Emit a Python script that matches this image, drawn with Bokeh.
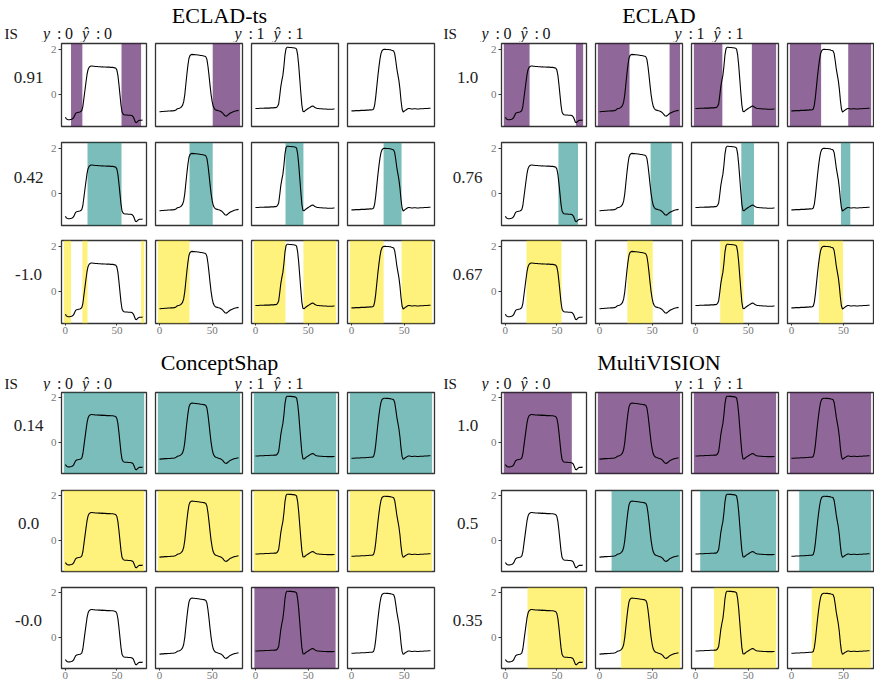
from bokeh.plotting import figure
from bokeh.models import Range1d, BoxAnnotation, FixedTicker, ColumnDataSource
from bokeh.layouts import row, column
from bokeh.embed import file_html
from bokeh.resources import INLINE
from bokeh.core.properties import value

# ---------------- data ----------------
time_steps = list(range(76))

series_a = [-0.98, -1.05, -1.08, -1.09, -1.09, -1.08, -1.07, -1.05, -1.00, -0.90,
            -0.81, -0.78, -0.77, -0.76, -0.75, -0.73, -0.68, -0.50, -0.15, 0.20,
            0.55, 0.88, 1.10, 1.20, 1.24, 1.26, 1.26, 1.25, 1.25, 1.24,
            1.24, 1.24, 1.23, 1.23, 1.23, 1.22, 1.23, 1.22, 1.22, 1.22,
            1.21, 1.21, 1.21, 1.21, 1.20, 1.20, 1.20, 1.19, 1.18, 1.16,
            1.08, 0.85, 0.45, 0.00, -0.45, -0.75, -0.84, -0.87, -0.88, -0.88,
            -0.88, -0.89, -0.89, -0.89, -0.90, -0.92, -0.97, -1.08, -1.20, -1.22,
            -1.17, -1.13, -1.11, -1.11, -1.11, -1.10]

series_b = [-0.74, -0.74, -0.73, -0.73, -0.73, -0.72, -0.72, -0.72, -0.71, -0.71,
            -0.71, -0.70, -0.70, -0.70, -0.69, -0.68, -0.65, -0.61, -0.60, -0.59,
            -0.56, -0.52, -0.45, -0.30, 0.00, 0.45, 0.90, 1.30, 1.60, 1.72,
            1.76, 1.77, 1.76, 1.76, 1.75, 1.75, 1.74, 1.74, 1.73, 1.72,
            1.72, 1.71, 1.70, 1.69, 1.66, 1.55, 1.25, 0.85, 0.40, 0.00,
            -0.30, -0.50, -0.60, -0.65, -0.67, -0.68, -0.70, -0.71, -0.73, -0.76,
            -0.80, -0.86, -0.91, -0.93, -0.92, -0.88, -0.84, -0.80, -0.78, -0.76,
            -0.74, -0.72, -0.71, -0.70, -0.69, -0.68]

series_c = [-0.60, -0.60, -0.60, -0.60, -0.59, -0.59, -0.59, -0.59, -0.59, -0.58,
            -0.58, -0.58, -0.58, -0.58, -0.57, -0.57, -0.57, -0.57, -0.56, -0.56,
            -0.55, -0.50, -0.40, -0.05, 0.35, 0.62, 0.85, 1.25, 1.75, 2.02,
            2.08, 2.08, 2.07, 2.07, 2.07, 2.06, 2.06, 2.05, 2.04, 2.00,
            1.75, 1.30, 0.70, 0.10, -0.45, -0.72, -0.74, -0.70, -0.66, -0.63,
            -0.60, -0.57, -0.54, -0.51, -0.49, -0.50, -0.54, -0.57, -0.59, -0.60,
            -0.60, -0.61, -0.61, -0.61, -0.62, -0.62, -0.62, -0.62, -0.63, -0.63,
            -0.63, -0.63, -0.63, -0.63, -0.62, -0.62]

series_d = [-0.70, -0.70, -0.70, -0.70, -0.69, -0.69, -0.69, -0.69, -0.69, -0.68,
            -0.68, -0.68, -0.68, -0.68, -0.67, -0.67, -0.67, -0.66, -0.66, -0.66,
            -0.65, -0.62, -0.45, -0.10, 0.35, 0.80, 1.20, 1.55, 1.80, 1.93,
            1.97, 1.99, 1.99, 1.98, 1.98, 1.98, 1.97, 1.97, 1.95, 1.94,
            1.92, 1.80, 1.50, 1.15, 0.88, 0.62, 0.25, -0.25, -0.62, -0.75,
            -0.72, -0.68, -0.65, -0.62, -0.60, -0.60, -0.61, -0.62, -0.62, -0.61,
            -0.61, -0.61, -0.62, -0.62, -0.62, -0.61, -0.61, -0.61, -0.61, -0.60,
            -0.60, -0.60, -0.60, -0.59, -0.59, -0.59]

all_series = [series_a, series_b, series_c, series_d]

x_ticks = [0, 50]
y_ticks = [0, 2]

methods_top = ["ECLAD-ts", "ECLAD"]
methods_bottom = ["ConceptShap", "MultiVISION"]

class_values = ["0", "1"]          # y and y-hat of the two class headers

is_eclad_ts = ["0.91", "0.42", "-1.0"]
is_eclad = ["1.0", "0.76", "0.67"]
is_conceptshap = ["0.14", "0.0", "-0.0"]
is_multivision = ["1.0", "0.5", "0.35"]

concept_purple = "#440154"
concept_teal = "#21918c"
concept_yellow = "#fde725"

colors_eclad_ts = [concept_purple, concept_teal, concept_yellow]
colors_eclad = [concept_purple, concept_teal, concept_yellow]
colors_conceptshap = [concept_teal, concept_yellow, concept_purple]
colors_multivision = [concept_purple, concept_teal, concept_yellow]

# concept regions: [row][column] -> list of (start, end)
spans_eclad_ts = [
    [[(5.5, 16.5), (54.5, 73.5)], [(50.5, 76.5)], [], []],
    [[(21.5, 54.5)], [(28.5, 50.5)], [(28.5, 45.5)], [(30.5, 47.5)]],
    [[(-1.5, 5.5), (16.5, 21.5), (73.5, 76.5)], [(-1.5, 28.5)],
     [(-1.5, 28.5), (45.5, 76.5)], [(-1.5, 30.5), (47.5, 76.5)]],
]
spans_eclad = [
    [[(-1.5, 23.5), (68.5, 75.5)], [(-1.5, 28.5), (66.5, 76.5)],
     [(-1.5, 25.5), (53.5, 76.5)], [(-1.5, 28.5), (54.5, 76.5)]],
    [[(51.5, 70.5)], [(48.5, 68.5)], [(43.5, 55.5)], [(47.5, 56.5)]],
    [[(20.5, 54.5)], [(26.5, 50.5)], [(23.5, 45.5)], [(26.5, 49.5)]],
]
spans_conceptshap = [
    [[(-1.5, 76.5)], [(-1.5, 76.5)], [(-1.5, 76.5)], [(-1.5, 76.5)]],
    [[(-1.5, 76.5)], [(-1.5, 76.5)], [(-1.5, 76.5)], [(-1.5, 76.5)]],
    [[], [], [(-1.0, 76.0)], []],
]
spans_multivision = [
    [[(-1.5, 64.5)], [(-1.5, 76.5)], [(-1.5, 76.5)], [(-1.5, 76.5)]],
    [[], [(11.5, 76.5)], [(4.5, 76.5)], [(7.5, 76.5)]],
    [[(21.5, 76.5)], [(20.5, 76.5)], [(17.5, 76.5)], [(19.5, 76.5)]],
]

is_values = {"ECLAD-ts": is_eclad_ts, "ECLAD": is_eclad,
             "ConceptShap": is_conceptshap, "MultiVISION": is_multivision}
row_colors = {"ECLAD-ts": colors_eclad_ts, "ECLAD": colors_eclad,
              "ConceptShap": colors_conceptshap, "MultiVISION": colors_multivision}
spans = {"ECLAD-ts": spans_eclad_ts, "ECLAD": spans_eclad,
         "ConceptShap": spans_conceptshap, "MultiVISION": spans_multivision}

# ---------------- style / layout ----------------
SERIF = "Liberation Serif"
TOTAL_W = 874

x_pad = 0.05 * (time_steps[-1] - time_steps[0])
X_RANGE = (time_steps[0] - x_pad, time_steps[-1] + x_pad)
y_min = min(min(s) for s in all_series)
y_max = max(max(s) for s in all_series)
y_pad = 0.05 * (y_max - y_min)
Y_RANGE = (y_min - y_pad, y_max + y_pad)


def blank_fig(w, h):
    p = figure(width=w, height=h, x_range=Range1d(0, w), y_range=Range1d(h, 0),
               output_backend="svg", toolbar_location=None,
               x_axis_location=None, y_axis_location=None,
               min_border=0, outline_line_color=None)
    p.grid.visible = False
    return p


def header_fig(h, titles, title_base, head_base):
    p = blank_fig(TOTAL_W, h)
    p.text(x=[219, 658.5], y=[title_base, title_base], text=titles,
           text_align="center", text_baseline="alphabetic",
           text_font=value(SERIF), text_font_size="22px", text_color="black")
    p.text(x=[4, 443], y=[head_base, head_base], text=["IS", "IS"],
           text_align="left", text_baseline="alphabetic",
           text_font=value(SERIF), text_font_size="15px", text_color="#111111")
    xs, ys, tx, st = [], [], [], []
    starts = [42.5, 234, 481, 674]
    for k, x0 in enumerate(starts):
        cv = class_values[k % 2]
        pieces = [("y", 0, "italic"), (":", 14, "normal"), (cv, 22, "normal"),
                  ("\u0177", 39, "italic"), (":", 53, "normal"), (cv, 61, "normal")]
        for t, dx, s in pieces:
            xs.append(x0 + dx)
            ys.append(head_base)
            tx.append(t)
            st.append(s)
    src = ColumnDataSource(dict(x=xs, y=ys, text=tx, style=st))
    p.text(x="x", y="y", text="text", text_font_style="style", source=src,
           text_align="left", text_baseline="alphabetic",
           text_font=value(SERIF), text_font_size="16px", text_color="#111111")
    return p


def label_fig(w, h, txt, base):
    p = blank_fig(w, h)
    p.text(x=[28], y=[base], text=[txt], text_align="center",
           text_baseline="alphabetic", text_font=value(SERIF),
           text_font_size="17px", text_color="#222222")
    return p


def style_axis(ax, ticks, tick_out, standoff):
    ax.ticker = FixedTicker(ticks=ticks)
    ax.axis_line_color = None
    ax.major_tick_line_color = "#333333"
    ax.major_tick_out = tick_out
    ax.major_tick_in = 0
    ax.minor_tick_out = 0
    ax.minor_tick_in = 0
    ax.major_label_standoff = standoff
    ax.major_label_text_font = SERIF
    ax.major_label_text_font_size = "11px"
    ax.major_label_text_color = "#777777"


def subplot(ser, sp, color, frame_w, frame_h, bl, br, bb, show_x, show_y):
    p = figure(width=bl + frame_w + br, height=1 + frame_h + bb,
               x_range=Range1d(*X_RANGE), y_range=Range1d(*Y_RANGE),
               output_backend="svg", toolbar_location=None,
               x_axis_location="below" if show_x else None,
               y_axis_location="left" if show_y else None,
               min_border_left=bl, min_border_right=br,
               min_border_top=1, min_border_bottom=bb,
               outline_line_color="#333333", outline_line_width=1.3)
    p.grid.visible = False
    for s, e in sp:
        p.add_layout(BoxAnnotation(left=s, right=e, fill_color=color, fill_alpha=0.6,
                                   line_alpha=0, level="underlay"))
    p.line(time_steps, ser, line_color="black", line_width=1.1)
    if show_x:
        style_axis(p.xaxis[0], x_ticks, 2, 1)
    if show_y:
        style_axis(p.yaxis[0], y_ticks, 3, 2)
    return p


def panel_row(methods, r, frame_h, bb, show_x):
    h = 1 + frame_h + bb
    figs = []
    for pi, m in enumerate(methods):
        figs.append(label_fig(47 if pi == 0 else 48, h, is_values[m][r], 1 + frame_h * 40 / 83))
        for c in range(4):
            last = (pi == 1 and c == 3)
            figs.append(subplot(all_series[c], spans[m][r][c], row_colors[m][r],
                                86 if last else 87, frame_h,
                                12 if c == 0 else 4, 1 if last else 5, bb,
                                show_x, c == 0))
    return row(*figs)


layout = column(
    header_fig(42, methods_top, 15, 33),
    panel_row(methods_top, 0, 83, 15, False),
    panel_row(methods_top, 1, 83, 14, False),
    panel_row(methods_top, 2, 83, 16, True),
    header_fig(52, methods_bottom, 23, 44),
    panel_row(methods_bottom, 0, 81, 16, False),
    panel_row(methods_bottom, 1, 81, 15, False),
    panel_row(methods_bottom, 2, 81, 16, True),
)

open("out.html", "w").write(file_html(layout, INLINE, title="concepts"))
